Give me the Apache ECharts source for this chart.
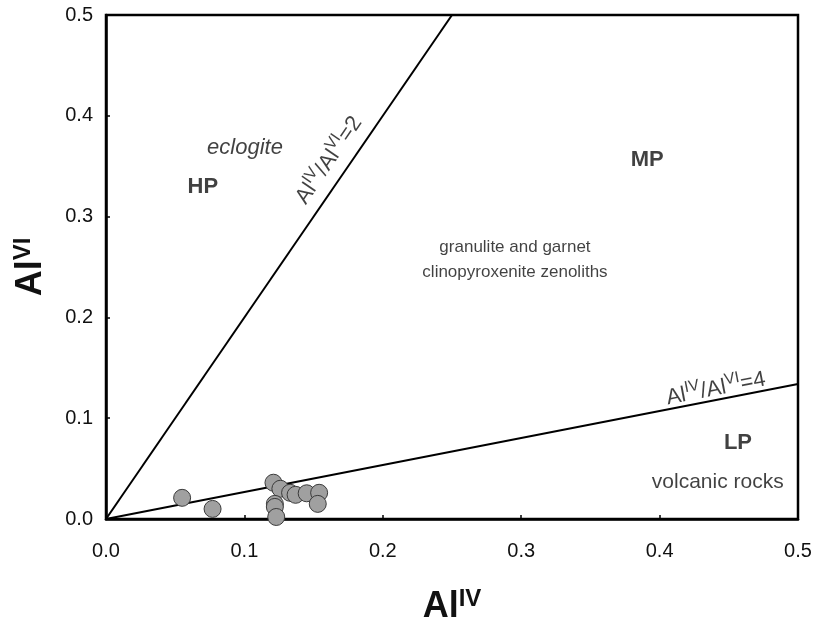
<!DOCTYPE html>
<html><head><meta charset="utf-8">
<script src="https://cdn.jsdelivr.net/npm/echarts@6/dist/echarts.min.js"></script>
<style>html,body{margin:0;padding:0;background:#fff}#c{width:814px;height:621px}</style>
</head><body><div id="c"></div>
<script>
// Sample points: Al(IV), Al(VI)
const alIV = [0.055, 0.077, 0.121, 0.126, 0.133, 0.137, 0.145, 0.154, 0.153, 0.122, 0.122, 0.123];
const alVI = [0.021, 0.010, 0.036, 0.030, 0.026, 0.024, 0.0255, 0.026, 0.015, 0.015, 0.012, 0.002];
// Boundary lines
const line2X = [0, 0.25];
const line2Y = [0, 0.5];
const line4X = [0, 0.5];
const line4Y = [0, 0.134];
const xTicks = [0, 0.1, 0.2, 0.3, 0.4, 0.5];
const yTicks = [0, 0.1, 0.2, 0.3, 0.4, 0.5];
// Annotations (data coordinates)
const notes = [
  {x: 0.1004, y: 0.368, text: 'eclogite', style: 'it'},
  {x: 0.070, y: 0.329, text: 'HP', style: 'bd'},
  {x: 0.391, y: 0.356, text: 'MP', style: 'bd'},
  {x: 0.2955, y: 0.257, text: 'granulite and garnet\nclinopyroxenite zenoliths', style: 'rg'},
  {x: 0.4566, y: 0.0754, text: 'LP', style: 'bd'},
  {x: 0.442, y: 0.0367, text: 'volcanic rocks', style: 'vr'}
];
const ratioLabels = [
  {x: 0.160, y: 0.357, text: '{a|Al}{s|IV}{a|/Al}{s|VI}{a|=2}', rot: 55.8},
  {x: 0.4404, y: 0.131, text: '{a|Al}{s|IV}{a|/Al}{s|VI}{a|=4}', rot: 11}
];

const FONT = '"Liberation Sans", Arial, sans-serif';
const INK = '#111';
const chart = echarts.init(document.getElementById('c'));
const styles = {
  it: {fontStyle: 'italic', fontSize: 22, color: INK},
  bd: {fontWeight: 'bold', fontSize: 22, color: INK},
  rg: {fontSize: 17, color: INK, lineHeight: 25},
  vr: {fontSize: 21, color: INK}
};
const supRich = {
  a: {fontSize: 22, color: INK, fontFamily: FONT, verticalAlign: 'bottom', lineHeight: 26},
  s: {fontSize: 16, color: INK, fontFamily: FONT, verticalAlign: 'top', lineHeight: 26, padding: [0, 0, 8, 0]}
};
const titleRich = {
  b: {fontSize: 36, fontWeight: 'bold', fontFamily: FONT, color: INK, verticalAlign: 'bottom', lineHeight: 38},
  s: {fontSize: 24, fontWeight: 'bold', fontFamily: FONT, color: INK, verticalAlign: 'top', lineHeight: 38, padding: [0, 0, 13, 0]}
};

chart.setOption({
  animation: false,
  backgroundColor: '#fff',
  grid: {left: 106, right: 16, top: 15, bottom: 102, outerBoundsMode: 'none', containLabel: false,
    show: true, borderColor: '#000', borderWidth: 2.5},
  xAxis: {
    type: 'value', min: 0, max: 0.5, interval: 0.1,
    name: '{b|Al}{s|IV}', nameLocation: 'middle', nameGap: 68,
    nameTextStyle: {rich: titleRich},
    axisLine: {show: true, onZero: false, lineStyle: {color: '#000', width: 2.5}},
    axisTick: {show: true, inside: true, length: 4, lineStyle: {color: '#000', width: 1.5}},
    axisLabel: {fontSize: 20, color: INK, fontFamily: FONT, margin: 22,
      formatter: v => xTicks.includes(+v.toFixed(1)) ? v.toFixed(1) : ''},
    splitLine: {show: false}
  },
  yAxis: {
    type: 'value', min: 0, max: 0.5, interval: 0.1,
    name: '{b|Al}{s|VI}', nameLocation: 'middle', nameGap: 57, nameRotate: 90,
    nameTextStyle: {rich: titleRich},
    axisLine: {show: true, onZero: false, lineStyle: {color: '#000', width: 2.5}},
    axisTick: {show: true, inside: true, length: 4, lineStyle: {color: '#000', width: 1.5}},
    axisLabel: {fontSize: 20, color: INK, fontFamily: FONT, margin: 13,
      formatter: v => yTicks.includes(+v.toFixed(1)) ? v.toFixed(1) : ''},
    splitLine: {show: false}
  },
  series: [
    {type: 'line', data: line2X.map((x, i) => [x, line2Y[i]]), symbol: 'none',
      lineStyle: {color: '#000', width: 2}, z: 3},
    {type: 'line', data: line4X.map((x, i) => [x, line4Y[i]]), symbol: 'none',
      lineStyle: {color: '#000', width: 2}, z: 3},
    {type: 'scatter', data: alIV.map((x, i) => [x, alVI[i]]), symbolSize: 17,
      itemStyle: {color: '#a0a0a0', borderColor: '#3a3a3a', borderWidth: 1, opacity: 1}, z: 5},
    {type: 'scatter', symbolSize: 0, silent: true, z: 6,
      data: notes.map(n => ({value: [n.x, n.y], label: {show: true, position: 'inside',
        formatter: n.text, fontFamily: FONT, align: 'center', verticalAlign: 'middle', ...styles[n.style]}}))},
    {type: 'scatter', symbolSize: 0, silent: true, z: 6,
      data: ratioLabels.map(n => ({value: [n.x, n.y], label: {show: true, position: 'inside',
        formatter: n.text, rotate: n.rot, align: 'center', verticalAlign: 'middle', rich: supRich}}))}
  ]
});
</script></body></html>
